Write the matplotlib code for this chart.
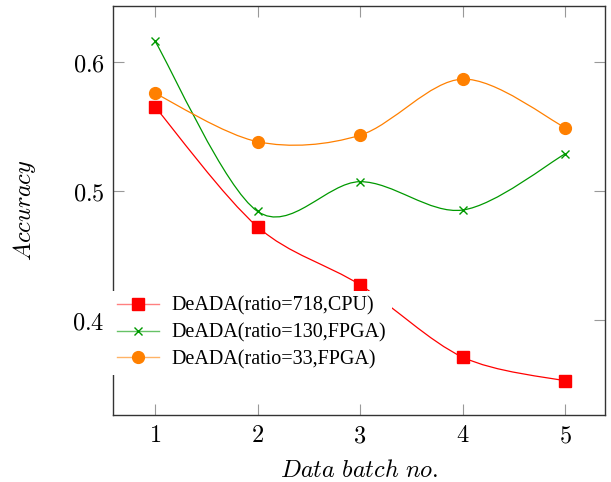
import numpy as np
import matplotlib.pyplot as plt
from matplotlib.path import Path
from matplotlib.patches import PathPatch
from matplotlib.lines import Line2D

plt.rcParams['mathtext.fontset'] = 'cm'

# Data
batches = [1, 2, 3, 4, 5]
acc_cpu718 = [0.565, 0.472, 0.427, 0.371, 0.3525]
acc_fpga130 = [0.616, 0.484, 0.507, 0.485, 0.5285]
acc_fpga33 = [0.5755, 0.538, 0.543, 0.5865, 0.549]
labels = ['DeADA(ratio=718,CPU)', 'DeADA(ratio=130,FPGA)', 'DeADA(ratio=33,FPGA)']
xticks = [1, 2, 3, 4, 5]
yticks = [0.4, 0.5, 0.6]


def smooth_path(xs, ys, tension=0.16):
    # tikz-like "smooth" curve through the points (cubic bezier segments)
    p = np.column_stack([xs, ys]).astype(float)
    n = len(p)
    verts = [p[0]]
    codes = [Path.MOVETO]
    for i in range(n - 1):
        prev = p[i - 1] if i > 0 else p[i]
        nxt = p[i + 2] if i + 2 < n else p[i + 1]
        c1 = p[i] + tension * (p[i + 1] - prev)
        c2 = p[i + 1] - tension * (nxt - p[i])
        verts += [c1, c2, p[i + 1]]
        codes += [Path.CURVE4] * 3
    return Path(verts, codes)


fig = plt.figure(figsize=(6.11, 4.82), dpi=100)
ax = fig.add_axes([113 / 611, 1 - 415 / 482, 492 / 611, 409 / 482])

series = [
    (acc_cpu718, '#ff0000', 's', 9, '#ff8080'),
    (acc_fpga130, '#009900', 'x', 6, '#66c266'),
    (acc_fpga33, '#ff8000', 'o', 8.5, '#ffb366'),
]

handles = []
for vals, col, mk, ms, light in series:
    ax.add_patch(PathPatch(smooth_path(batches, vals), fc='none', ec=col, lw=0.9, zorder=2))
    ax.plot(batches, vals, ls='none', marker=mk, color=col, ms=ms, mew=1.0, zorder=3)
    handles.append(Line2D([], [], color=light, lw=1.0, marker=mk, ms=ms,
                          mfc=col, mec=col, mew=1.0))

ax.set_xlim(0.59, 5.39)
ax.set_ylim(0.3261, 0.6432)
ax.set_xticks(xticks)
ax.set_xticklabels(['$%d$' % t for t in xticks])
ax.set_yticks(yticks)
ax.set_yticklabels(['$%.1f$' % t for t in yticks])

ax.tick_params(direction='in', length=8, width=0.8, color='#999999',
               top=True, right=True, labelsize=17.5)
ax.tick_params(axis='x', pad=6)
ax.tick_params(axis='y', pad=6)
for s in ax.spines.values():
    s.set_color('#333333')
    s.set_linewidth(1.0)

ax.set_xlabel(r'$Data\ batch\ no.$', fontsize=17.5, labelpad=8)
ax.set_ylabel(r'$Accuracy$', fontsize=17.5, labelpad=25)

leg = ax.legend(handles, labels, loc='center left', bbox_to_anchor=(-0.004, 0.2005),
                frameon=True, fancybox=False, edgecolor='none', framealpha=1,
                prop={'family': 'Liberation Serif', 'size': 14.5},
                handlelength=2.1, handletextpad=0.6, labelspacing=0.37,
                borderpad=0.3, borderaxespad=0)
leg.set_zorder(10)

fig.savefig('out.png', dpi=100)
